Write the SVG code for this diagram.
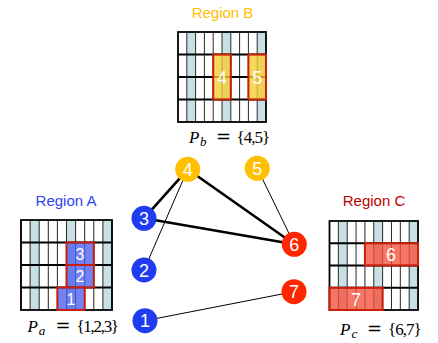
<svg xmlns="http://www.w3.org/2000/svg" width="438" height="343" viewBox="0 0 438 343">
  <style>
    .region { font-family: "Liberation Sans", Arial, sans-serif; font-size: 15px; text-anchor: middle; }
    .math { font-family: "Liberation Serif", "Times New Roman", serif; font-size: 17px; fill: #000; }
    .mi { font-style: italic; }
    .sub { font-style: italic; font-size: 13px; }
    .eq { font-family: "DejaVu Serif", serif; font-size: 18px; }
    .set { letter-spacing: -1px; }
    .num { font-family: "Liberation Sans", Arial, sans-serif; fill: #fff; text-anchor: middle; }
    .node-label { font-size: 18px; }
    .cell-label { font-size: 16px; }
    .cell-big { font-size: 18px; }
    .hl { stroke: #C81E0A; stroke-width: 2; fill-opacity: 0.78; }
    .thick { stroke: #000; stroke-width: 2.6; }
    .thin { stroke: #000; stroke-width: 1; }
  </style>
  <defs>
    <!-- 10 x 4 partition grid, 88 x 90 -->
    <g id="grid">
      <rect x="0" y="0" width="88" height="90" fill="#fff"/>
      <rect x="8.8" y="0" width="8.8" height="90" fill="#C6E0E4"/>
      <rect x="44" y="0" width="8.8" height="90" fill="#C6E0E4"/>
      <rect x="79.2" y="0" width="8.8" height="90" fill="#C6E0E4"/>
      <g stroke="#2a2a2a" stroke-width="1">
        <line x1="8.8" y1="0" x2="8.8" y2="90"/>
        <line x1="17.6" y1="0" x2="17.6" y2="90"/>
        <line x1="26.4" y1="0" x2="26.4" y2="90"/>
        <line x1="35.2" y1="0" x2="35.2" y2="90"/>
        <line x1="44" y1="0" x2="44" y2="90"/>
        <line x1="52.8" y1="0" x2="52.8" y2="90"/>
        <line x1="61.6" y1="0" x2="61.6" y2="90"/>
        <line x1="70.4" y1="0" x2="70.4" y2="90"/>
        <line x1="79.2" y1="0" x2="79.2" y2="90"/>
      </g>
      <g stroke="#000" stroke-width="1.8">
        <line x1="0" y1="22.5" x2="88" y2="22.5"/>
        <line x1="0" y1="45" x2="88" y2="45"/>
        <line x1="0" y1="67.5" x2="88" y2="67.5"/>
      </g>
      <rect x="0" y="0" width="88" height="90" fill="none" stroke="#000" stroke-width="1.8"/>
    </g>
  </defs>

  <!-- Region B -->
  <g id="region-b">
    <text class="region" x="222.5" y="18" fill="#FFC000">Region B</text>
    <use href="#grid" transform="translate(178,32)"/>
    <rect class="hl" x="213.2" y="54.5" width="17.6" height="45" fill="#F7CC2E"/>
    <rect class="hl" x="248.4" y="54.5" width="17.6" height="45" fill="#F7CC2E"/>
    <text class="num cell-big" x="222" y="83.5">4</text>
    <text class="num cell-big" x="257.2" y="83.5">5</text>
    <text class="math" y="142.5"><tspan class="mi" x="189">P</tspan><tspan class="sub" x="200" dy="3.5">b</tspan><tspan class="eq" x="216" dy="-3.5">=</tspan><tspan class="set" x="236.5">{4,5}</tspan></text>
  </g>

  <!-- Region A -->
  <g id="region-a">
    <text class="region" x="66" y="206" fill="#2F45F2">Region A</text>
    <use href="#grid" transform="translate(21,220) scale(1.034,1)"/>
    <rect class="hl" x="66.5" y="242.5" width="27.3" height="22.5" fill="#4A60F2"/>
    <rect class="hl" x="66.5" y="265" width="27.3" height="22.5" fill="#4A60F2"/>
    <rect class="hl" x="57.4" y="287.5" width="27.3" height="22.5" fill="#4A60F2"/>
    <text class="num cell-label" x="80" y="259.5">3</text>
    <text class="num cell-label" x="80" y="282">2</text>
    <text class="num cell-label" x="71" y="304.5">1</text>
    <text class="math" y="332.3"><tspan class="mi" x="27.5">P</tspan><tspan class="sub" x="38.8" dy="3">a</tspan><tspan class="eq" x="55.5" dy="-3">=</tspan><tspan class="set" x="76.5" style="letter-spacing:-1.3px">{1,2,3}</tspan></text>
  </g>

  <!-- Region C -->
  <g id="region-c">
    <text class="region" x="374" y="206" fill="#C00000">Region C</text>
    <use href="#grid" transform="translate(329.5,221) scale(1.006,0.989)"/>
    <rect class="hl" x="364.9" y="243.2" width="53.1" height="22.3" fill="#F5503A"/>
    <rect class="hl" x="329.5" y="287.7" width="53.1" height="22.3" fill="#F5503A"/>
    <text class="num cell-big" x="391" y="261">6</text>
    <text class="num cell-big" x="356" y="305.5">7</text>
    <text class="math" y="334.7"><tspan class="mi" x="340">P</tspan><tspan class="sub" x="351.5" dy="3">c</tspan><tspan class="eq" x="367" dy="-3">=</tspan><tspan class="set" x="388">{6,7}</tspan></text>
  </g>

  <!-- connectors -->
  <g id="connectors">
    <line class="thick" x1="187.7" y1="169.3" x2="144" y2="218.3"/>
    <line class="thick" x1="187.7" y1="169.3" x2="294.3" y2="244.3"/>
    <line class="thick" x1="144" y1="218.3" x2="294.3" y2="244.3"/>
    <line class="thin" x1="187.7" y1="169.3" x2="144" y2="270"/>
    <line class="thin" x1="257.3" y1="168.3" x2="294.3" y2="244.3"/>
    <line class="thin" x1="145" y1="320.7" x2="294" y2="291.7"/>
  </g>

  <!-- graph nodes -->
  <g id="node-1"><circle cx="145" cy="320.7" r="12.5" fill="#1F3CF0"/><text class="num node-label" x="145" y="327.2">1</text></g>
  <g id="node-2"><circle cx="144" cy="270" r="12.5" fill="#1F3CF0"/><text class="num node-label" x="144" y="276.5">2</text></g>
  <g id="node-3"><circle cx="144" cy="218.3" r="12.5" fill="#1F3CF0"/><text class="num node-label" x="144" y="224.8">3</text></g>
  <g id="node-4"><circle cx="187.7" cy="169.3" r="12.5" fill="#FFC000"/><text class="num node-label" x="187.7" y="175.8">4</text></g>
  <g id="node-5"><circle cx="257.3" cy="168.3" r="12.5" fill="#FFC000"/><text class="num node-label" x="257.3" y="174.8">5</text></g>
  <g id="node-6"><circle cx="294.3" cy="244.3" r="12.5" fill="#FF2600"/><text class="num node-label" x="294.3" y="250.8">6</text></g>
  <g id="node-7"><circle cx="294" cy="291.7" r="12.5" fill="#FF2600"/><text class="num node-label" x="294" y="298.2">7</text></g>
</svg>
